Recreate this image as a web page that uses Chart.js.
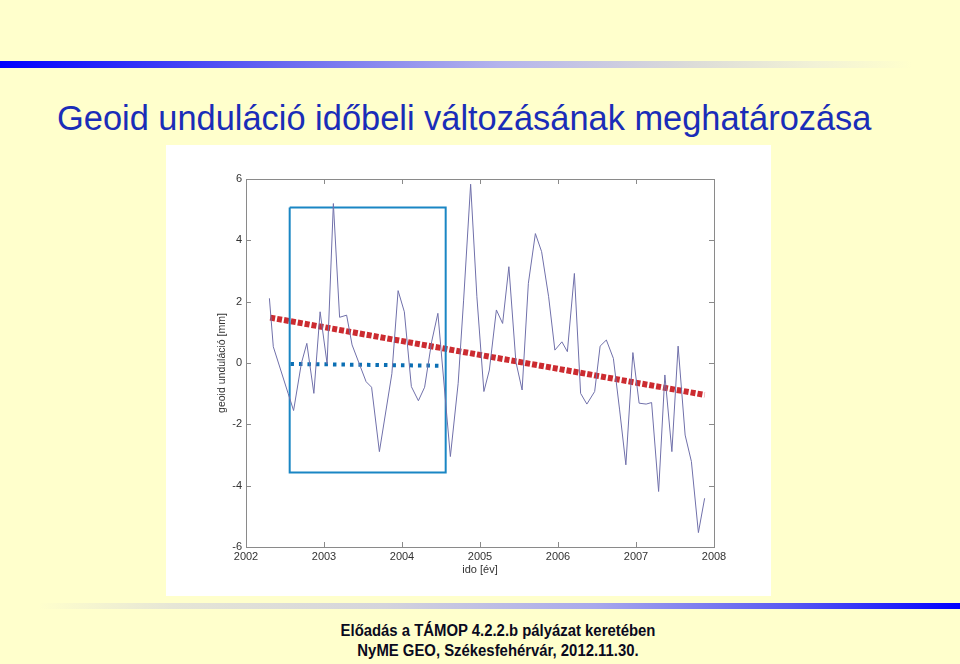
<!DOCTYPE html>
<html>
<head>
<meta charset="utf-8">
<script src="https://cdn.jsdelivr.net/npm/chart.js@4"></script>
<style>
  html, body { margin:0; padding:0; }
  body { width:960px; height:664px; background:#ffffcc; position:relative; overflow:hidden; font-family:"Liberation Sans", Arial, sans-serif; }
  #topbar { position:absolute; left:0; top:61px; width:960px; height:7px;
    background:linear-gradient(to right, #0000ff 0%, #6a6af0 30%, #b4b4ec 52%, #dcdcd8 72%, #f2f2d6 85%, #ffffcc 95%); }
  #botbar { position:absolute; left:0; top:603px; width:960px; height:6px;
    background:linear-gradient(to right, #ffffcc 4%, #e6e6d6 18%, #d4d4dc 40%, #a8a8ec 62%, #5a5af2 82%, #0000ff 100%); }
  #title { position:absolute; left:57px; top:99px; font-size:34.4px; color:#1a2db8; white-space:nowrap; }
  #panel { position:absolute; left:166px; top:145px; width:605px; height:451px; background:#ffffff; }
  #foot { position:absolute; left:0; width:996px; top:621px; text-align:center; font-family:"Liberation Sans Narrow","Liberation Sans",Arial,sans-serif; font-weight:bold; font-size:16px; line-height:19.5px; color:#0a0a20; transform:scaleX(0.93); transform-origin:498px 0; }
</style>
</head>
<body>
<div id="topbar"></div>
<div id="title">Geoid unduláció időbeli változásának meghatározása</div>
<div id="panel"><canvas id="c" width="605" height="451"></canvas></div>
<div id="botbar"></div>
<div id="foot">Előadás a TÁMOP 4.2.2.b pályázat keretében<br>NyME GEO, Székesfehérvár, 2012.11.30.</div>
<script>
// ---- data ----
const times = [2002.30, 2002.35, 2002.54, 2002.61, 2002.71, 2002.78, 2002.87, 2002.95, 2003.04, 2003.12,
  2003.20, 2003.29, 2003.36, 2003.54, 2003.61, 2003.71, 2003.87, 2003.95, 2004.03, 2004.12,
  2004.21, 2004.29, 2004.38, 2004.46, 2004.62, 2004.72, 2004.79, 2004.88, 2004.96, 2005.05,
  2005.12, 2005.21, 2005.29, 2005.37, 2005.46, 2005.54, 2005.62, 2005.71, 2005.79, 2005.88,
  2005.96, 2006.05, 2006.12, 2006.21, 2006.29, 2006.37, 2006.47, 2006.54, 2006.62, 2006.71,
  2006.79, 2006.87, 2006.96, 2007.04, 2007.13, 2007.20, 2007.29, 2007.37, 2007.46, 2007.54,
  2007.63, 2007.71, 2007.80, 2007.88];
const undulation = [2.11, 0.53, -0.99, -1.55, -0.01, 0.64, -0.99, 1.67, -0.03, 5.20,
  1.49, 1.56, 0.59, -0.61, -0.79, -2.89, -0.35, 2.36, 1.67, -0.77,
  -1.23, -0.79, 0.69, 1.62, -3.05, -0.66, 2.05, 5.83, 2.16, -0.93,
  -0.23, 1.73, 1.29, 3.14, 0.04, -0.88, 2.60, 4.22, 3.63, 2.16,
  0.42, 0.69, 0.37, 2.92, -0.99, -1.34, -0.93, 0.55, 0.75, 0.15,
  -1.53, -3.32, 0.34, -1.31, -1.34, -1.29, -4.19, -0.39, -2.89, 0.55,
  -2.35, -3.21, -5.53, -4.41];
const trendX = [2002.31, 2007.88];
const trendY = [1.48, -1.04];
const meanX = [2002.57, 2004.52];
const meanY = [-0.03, -0.09];
const boxX = [2002.56, 2004.56, 2004.56, 2002.56, 2002.56];
const boxY = [5.07, 5.07, -3.57, -3.57, 5.07];
const xTicks = [2002, 2003, 2004, 2005, 2006, 2007, 2008];
const yTicks = [-6, -4, -2, 0, 2, 4, 6];
const xTitle = 'ido [év]';
const yTitle = 'geoid unduláció [mm]';

const pts = (xs, ys) => xs.map((x, i) => ({x: x, y: ys[i]}));

const frame = {
  id: 'frame',
  afterDatasetsDraw(chart) {
    const {ctx, chartArea: a, scales: {x, y}} = chart;
    ctx.save();
    ctx.strokeStyle = '#8a8a8a';
    ctx.lineWidth = 1;
    ctx.strokeRect(Math.round(a.left) + 0.5, Math.round(a.top) + 0.5, Math.round(a.right - a.left), Math.round(a.bottom - a.top));
    ctx.beginPath();
    xTicks.forEach(v => {
      const px = Math.round(x.getPixelForValue(v)) + 0.5;
      ctx.moveTo(px, a.bottom); ctx.lineTo(px, a.bottom - 5);
      ctx.moveTo(px, a.top); ctx.lineTo(px, a.top + 5);
    });
    yTicks.forEach(v => {
      const py = Math.round(y.getPixelForValue(v)) + 0.5;
      ctx.moveTo(a.left, py); ctx.lineTo(a.left + 5, py);
      ctx.moveTo(a.right, py); ctx.lineTo(a.right - 5, py);
    });
    ctx.stroke();
    ctx.restore();
  }
};

new Chart(document.getElementById('c'), {
  type: 'scatter',
  data: {
    datasets: [
      { data: pts(times, undulation), showLine: true, borderColor: '#7070aa', borderWidth: 1, pointRadius: 0, tension: 0 },
      { data: pts(boxX, boxY), showLine: true, borderColor: '#1a86c4', borderWidth: 2, pointRadius: 0, tension: 0 },
      { data: pts(meanX, meanY), showLine: true, borderColor: '#0b6fb4', borderWidth: 4, borderDash: [3.5, 5], borderCapStyle: 'butt', pointRadius: 0 },
      { data: pts(trendX, trendY), showLine: true, borderColor: '#cc2b30', borderWidth: 6, borderDash: [5, 2], borderCapStyle: 'butt', pointRadius: 0 }
    ]
  },
  options: {
    responsive: false,
    animation: false,
    events: [],
    layout: { padding: { left: 50, top: 34, right: 57, bottom: 19 } },
    plugins: { legend: { display: false }, tooltip: { enabled: false } },
    scales: {
      x: {
        type: 'linear', min: 2002, max: 2008,
        afterBuildTicks: s => { s.ticks = xTicks.map(v => ({value: v})); },
        grid: { display: false, drawTicks: false },
        border: { display: false },
        ticks: { color: '#333', font: { family: 'Liberation Sans, Arial', size: 11 }, padding: 3, maxRotation: 0, callback: v => String(v) },
        title: { display: true, text: xTitle, color: '#333', font: { family: 'Liberation Sans, Arial', size: 11 }, padding: { top: 0, bottom: 0 } },
        afterFit: s => { s.height = 30; }
      },
      y: {
        type: 'linear', min: -6, max: 6,
        afterBuildTicks: s => { s.ticks = yTicks.map(v => ({value: v})); },
        grid: { display: false, drawTicks: false },
        border: { display: false },
        ticks: { color: '#333', font: { family: 'Liberation Sans, Arial', size: 11 }, padding: 4 },
        title: { display: true, text: yTitle, color: '#333', font: { family: 'Liberation Sans, Arial', size: 10.5 }, padding: { top: 0, bottom: 0 } },
        afterFit: s => { s.width = 30; }
      }
    }
  },
  plugins: [frame]
});
</script>
</body>
</html>
